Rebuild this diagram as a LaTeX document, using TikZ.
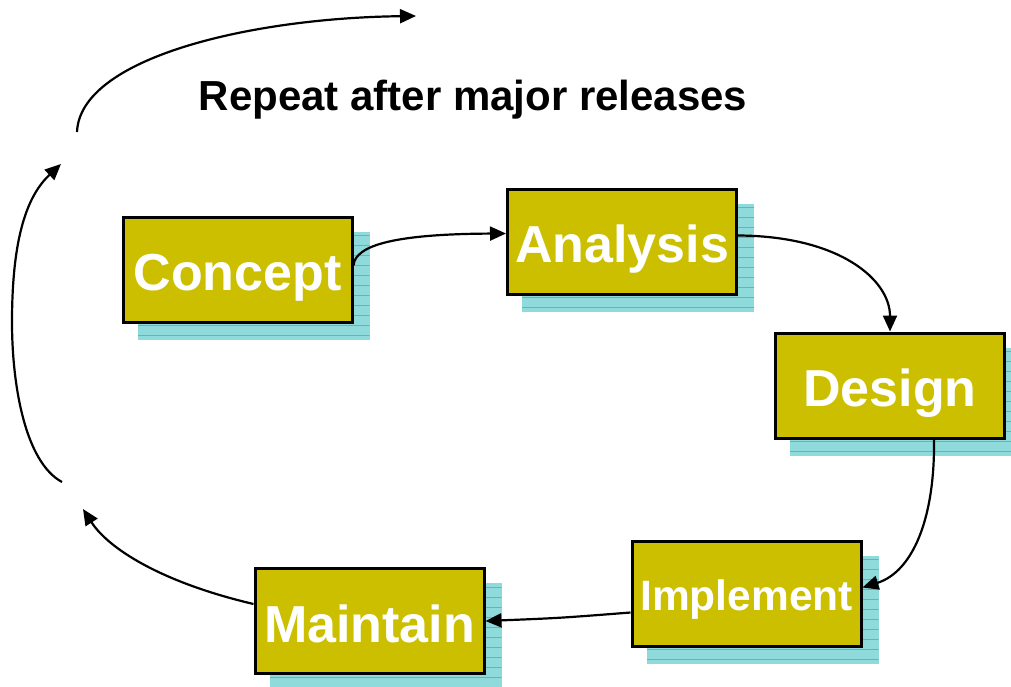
\documentclass[tikz,border=0pt]{standalone}
\usepackage{fontspec}
\setmainfont{Liberation Sans}
\usetikzlibrary{arrows.meta,backgrounds}
\definecolor{boxfill}{HTML}{CCBF00}
\definecolor{shadowc}{HTML}{8FDADA}
\definecolor{shadowl}{HTML}{45C2C2}
\tikzset{
  stagebox/.style={draw=black, line width=3pt, fill=boxfill, text=white,
    minimum width=229pt, minimum height=105pt, inner sep=0pt,
    text height=42pt, text depth=0pt,
    font=\bfseries\fontsize{52}{52}\selectfont},
  conn/.style={line width=2.2pt, -{Triangle[length=16pt,width=14pt]}},
  plainconn/.style={line width=2.2pt},
  shadowrect/.style={fill=shadowc,
    path picture={\foreach \i in {0,...,12}{\draw[shadowl,line width=0.8pt]
      ([yshift=-4pt-\i*10pt]path picture bounding box.north west) -- ++(300pt,0);}}}
}
\newcommand\boxshade[1]{%
  \path[shadowrect] ([shift={(16pt,-16pt)}]#1.south west) rectangle ([shift={(16pt,-16pt)}]#1.north east);}
\begin{document}
\begin{tikzpicture}[x=1pt,y=-1pt]
\useasboundingbox (0,0) rectangle (1011,686);
\node[stagebox] (concept) at (237.5,269.5) {Concept};
\node[stagebox] (analysis) at (622,241.5) {Analysis};
\node[stagebox] (design) at (890,385.5) {Design};
\node[stagebox, font=\bfseries\fontsize{42.5}{42.5}\selectfont, text height=34pt] (implement) at (746.5,593.5) {Implement};
\node[stagebox] (maintain) at (369.5,621) {Maintain};
\begin{scope}[on background layer]
\boxshade{concept}
\boxshade{analysis}
\boxshade{design}
\boxshade{implement}
\boxshade{maintain}
\end{scope}
\node[font=\bfseries\fontsize{42}{42}\selectfont] (repeat) at (473,100) {Repeat after major releases};
\coordinate (mEnd) at (83,509);
\coordinate (lBot) at (62,482);
\coordinate (lMid) at (12,322);
\coordinate (lTop) at (61,164);
\coordinate (tStart) at (77,132);
\coordinate (tEnd) at (416,16);
\draw[conn] ([yshift=4pt]concept.east) .. controls (355,244) and (400,234) .. ([yshift=8pt]analysis.west);
\draw[conn] ([yshift=6pt]analysis.east) .. controls (840,236) and (890,280) .. (design.north);
\draw[conn] ([xshift=44pt]design.south) .. controls (935,520) and (912,572) .. ([yshift=6pt]implement.east);
\draw[conn] ([yshift=-19pt]implement.west) .. controls (560,618) .. (maintain.east);
\draw[conn] ([yshift=17pt]maintain.west) .. controls (160,582) and (108,548) .. (mEnd);
\draw[plainconn] (lBot) .. controls (25,462) and (12,385) .. (lMid);
\draw[conn] (lMid) .. controls (12,235) and (28,195) .. (lTop);
\draw[conn] (tStart) .. controls (80,58) and (250,18) .. (tEnd);
\end{tikzpicture}
\end{document}
